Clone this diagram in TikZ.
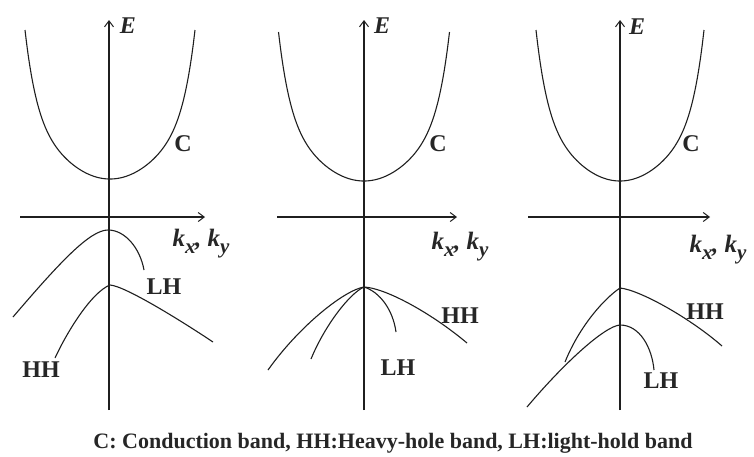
\documentclass[tikz,border=0pt]{standalone}
\usepackage{fontspec}
\setmainfont{Liberation Serif}
\usetikzlibrary{arrows.meta}
\tikzset{
  band/.style={line width=1.1pt, draw=black!88},
  axis/.style={line width=1.1pt, draw=black!88, -{Straight Barb[length=6pt,width=9pt,line width=1pt]}},
  lbl/.style={font=\fontsize{24}{24}\selectfont\bfseries, text=black!85, inner sep=0pt},
  elbl/.style={font=\fontsize{24}{24}\selectfont\bfseries\itshape, text=black!85, inner sep=0pt},
  klbl/.style={font=\fontsize{25}{25}\selectfont\bfseries\itshape, text=black!85, inner sep=0pt},
  captiontext/.style={font=\fontsize{22}{22}\selectfont\bfseries, text=black!85, inner sep=0pt},
}
\newcommand{\kxky}{k\raisebox{-0.28em}{\fontsize{21}{21}\selectfont x}\kern-0.02em, k\raisebox{-0.28em}{\fontsize{21}{21}\selectfont y}}
\newcommand{\cband}[4]{% centre x, bottom y, half width, depth
  \draw[band] plot[domain=-#3:#3,samples=100,smooth] ({#1+\x},{#2-75/149*#4*(\x/#3)^2-74/149*#4*(\x/#3)^8});}
\begin{document}
\begin{tikzpicture}[x=1pt,y=-1pt]
\useasboundingbox (0,0) rectangle (754,456);
% ---------- panel 1 ----------
\coordinate (a1b) at (109,410); \coordinate (a1t) at (109,20);
\coordinate (h1l) at (20,217);  \coordinate (h1r) at (205,217);
\draw[axis] (a1b) -- (a1t);
\draw[axis] (h1l) -- (h1r);
\cband{110}{179}{85}{149}
\draw[band] (13,317) .. controls (60,262) and (90,230) .. (108,230) .. controls (125,230) and (140,248) .. (144,270);
\draw[band] (55,358) .. controls (68,330) and (92,292) .. (110,285) .. controls (125,286) and (180,320) .. (213,342);
\node[elbl] (e1) at (128,26) {E};
\node[lbl] (c1) at (183,144) {C};
\node[klbl] (k1) at (201,244) {\kxky};
\node[lbl] (lh1) at (164,287) {LH};
\node[lbl] (hh1) at (41,370) {HH};
% ---------- panel 2 ----------
\coordinate (a2b) at (364,410); \coordinate (a2t) at (364,20);
\coordinate (h2l) at (277,217);  \coordinate (h2r) at (457,217);
\draw[axis] (a2b) -- (a2t);
\draw[axis] (h2l) -- (h2r);
\cband{364}{181}{85.5}{149}
\draw[band] (268,370) .. controls (300,325) and (345,290) .. (364,287) .. controls (385,288) and (430,312) .. (467,343);
\draw[band] (311,359) .. controls (325,325) and (350,293) .. (364,287) .. controls (380,292) and (393,310) .. (396,332);
\node[elbl] (e2) at (382,26) {E};
\node[lbl] (c2) at (438,144) {C};
\node[klbl] (k2) at (460,247) {\kxky};
\node[lbl] (hh2) at (460,316) {HH};
\node[lbl] (lh2) at (398,368) {LH};
% ---------- panel 3 ----------
\coordinate (a3b) at (620,410); \coordinate (a3t) at (620,20);
\coordinate (h3l) at (528,217);  \coordinate (h3r) at (710,217);
\draw[axis] (a3b) -- (a3t);
\draw[axis] (h3l) -- (h3r);
\cband{620}{181}{84}{151}
\draw[band] (565,362) .. controls (580,325) and (605,298) .. (620,288) .. controls (640,290) and (690,318) .. (722,346);
\draw[band] (527,407) .. controls (565,362) and (605,326) .. (620,325) .. controls (640,325) and (652,348) .. (654,370);
\node[elbl] (e3) at (637,27) {E};
\node[lbl] (c3) at (691,144) {C};
\node[klbl] (k3) at (718,250) {\kxky};
\node[lbl] (hh3) at (705,312) {HH};
\node[lbl] (lh3) at (661,381) {LH};
% ---------- caption ----------
\node[captiontext, anchor=base] (caption) at (393,448) {C: Conduction band, HH:Heavy-hole band, LH:light-hold band};
\end{tikzpicture}
\end{document}
